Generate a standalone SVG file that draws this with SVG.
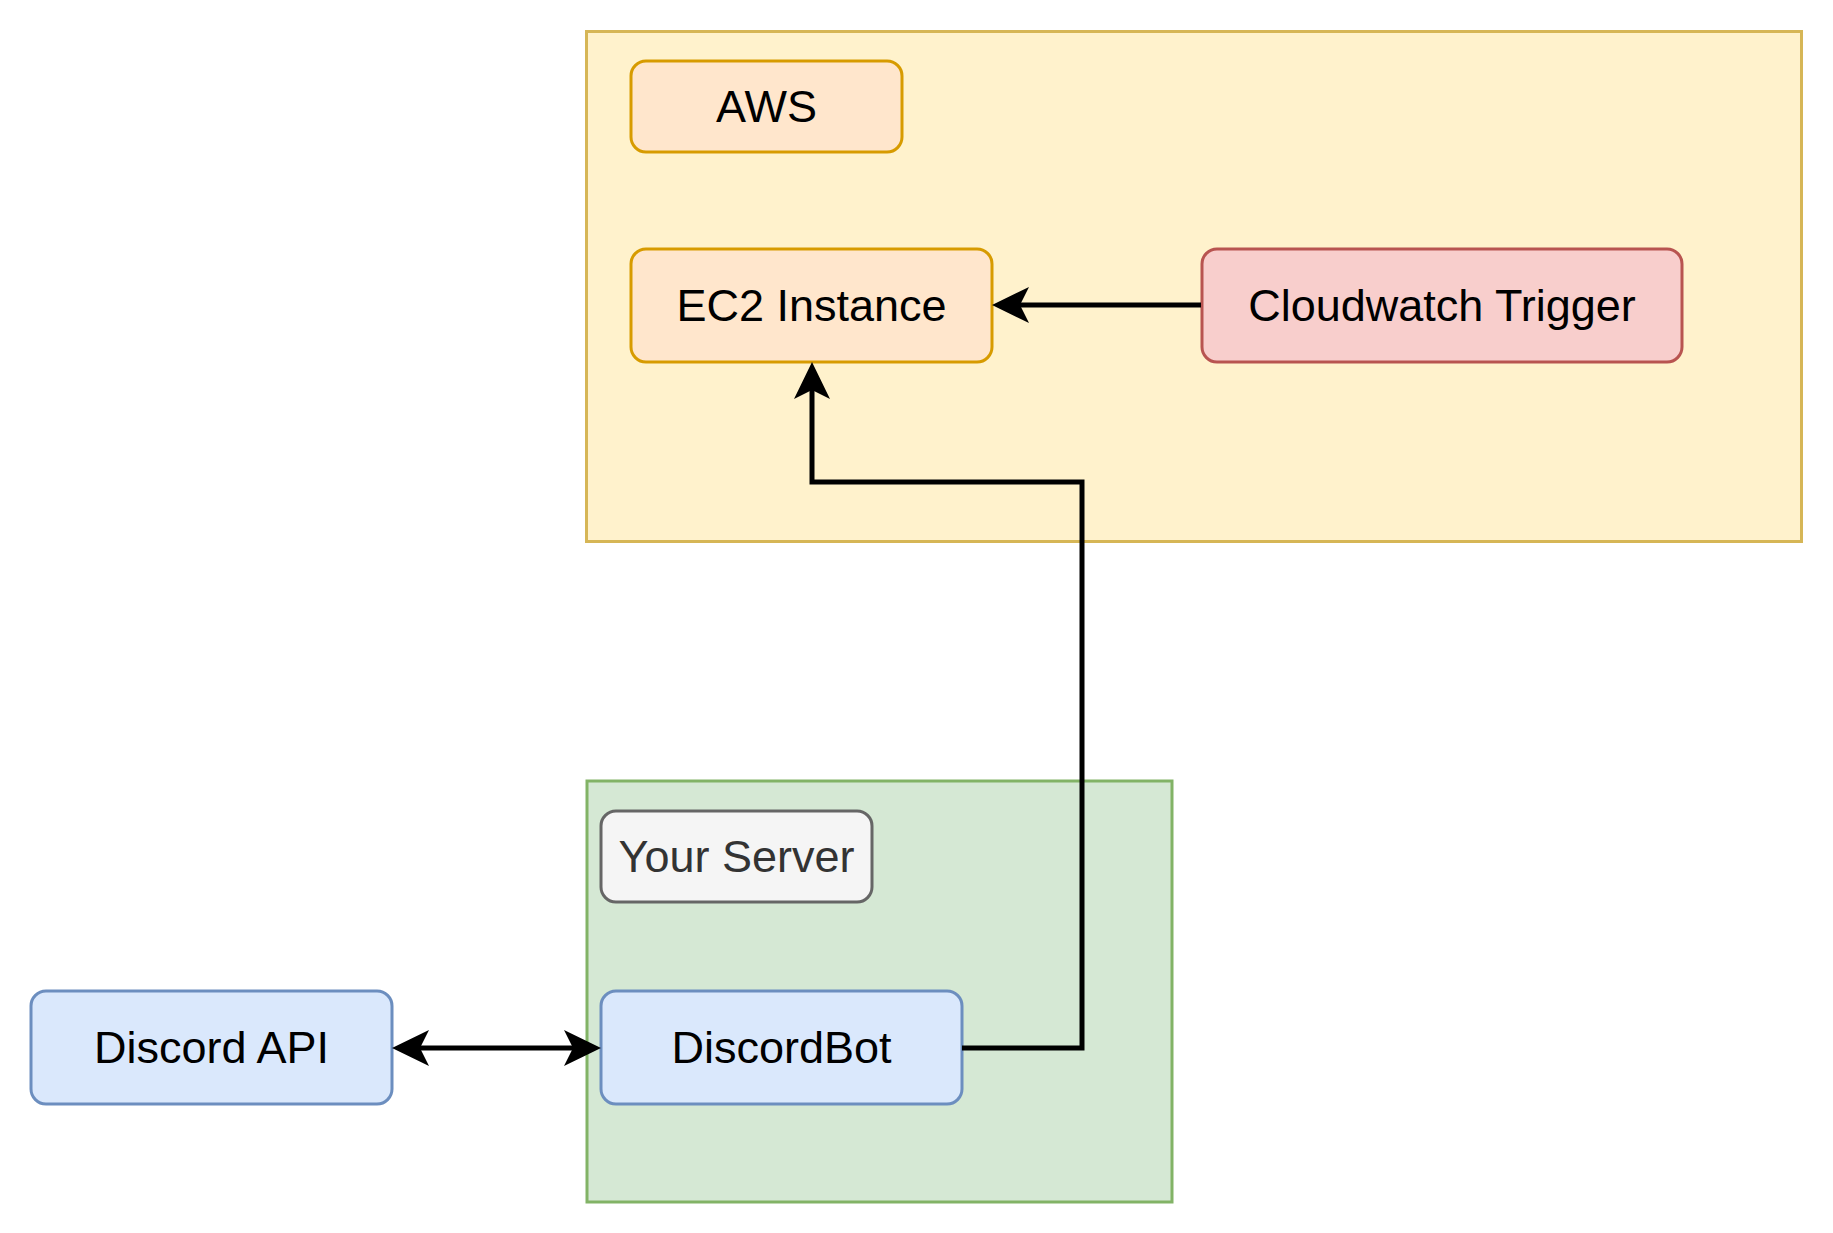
<svg xmlns="http://www.w3.org/2000/svg" width="1833" height="1233" viewBox="0 0 1833 1233">
  <style>
    .box { stroke-width: 3; }
    .lbl { font-family: "Liberation Sans", Arial, Helvetica, sans-serif; font-size: 45px; text-anchor: middle; fill: #000000; }
    .conn { fill: none; stroke: #000000; stroke-width: 5; stroke-linejoin: miter; }
    .yellow { fill: #fff2cc; stroke: #d6b656; }
    .orange { fill: #ffe6cc; stroke: #d79b00; }
    .red { fill: #f8cecc; stroke: #b85450; }
    .blue { fill: #dae8fc; stroke: #6c8ebf; }
    .green { fill: #d5e8d4; stroke: #82b366; }
    .grey { fill: #f5f5f5; stroke: #666666; }
  </style>
  <defs>
    <marker id="arrow" markerUnits="userSpaceOnUse" markerWidth="40" markerHeight="40" refX="0" refY="0" orient="auto-start-reverse" overflow="visible" viewBox="-10 -20 40 40">
      <path d="M28,0 L-9,-18 L0,0 L-9,18 Z" fill="#000000" stroke="none"/>
    </marker>
  </defs>
  <rect width="1833" height="1233" fill="#ffffff"/>
  <g id="aws-container">
    <rect class="box yellow" x="586.5" y="31.5" width="1215" height="510"/>
  </g>
  <g id="server-container">
    <rect class="box green" x="587" y="781" width="585" height="421"/>
  </g>
  <g id="aws">
    <rect class="box orange" x="631" y="61" width="271" height="91" rx="15"/>
    <text class="lbl" x="766.5" y="122">AWS</text>
  </g>
  <g id="ec2">
    <rect class="box orange" x="631" y="249" width="361" height="113" rx="15"/>
    <text class="lbl" x="811.5" y="321">EC2 Instance</text>
  </g>
  <g id="cloudwatch">
    <rect class="box red" x="1202" y="249" width="480" height="113" rx="15"/>
    <text class="lbl" x="1442" y="321">Cloudwatch Trigger</text>
  </g>
  <g id="your-server">
    <rect class="box grey" x="601" y="811" width="271" height="91" rx="15"/>
    <text class="lbl" x="736.5" y="872" style="fill:#333333">Your Server</text>
  </g>
  <g id="discord-api">
    <rect class="box blue" x="31" y="991" width="361" height="113" rx="15"/>
    <text class="lbl" x="211.5" y="1063">Discord API</text>
  </g>
  <g id="discordbot">
    <rect class="box blue" x="601" y="991" width="361" height="113" rx="15"/>
    <text class="lbl" x="781.5" y="1063">DiscordBot</text>
  </g>
  <g id="connectors">
    <path class="conn" d="M1201,305 L1020,305" marker-end="url(#arrow)"/>
    <path class="conn" d="M420,1048 L573,1048" marker-start="url(#arrow)" marker-end="url(#arrow)"/>
    <path class="conn" d="M962,1048 L1082,1048 L1082,482 L812,482 L812,390" marker-end="url(#arrow)"/>
  </g>
</svg>
